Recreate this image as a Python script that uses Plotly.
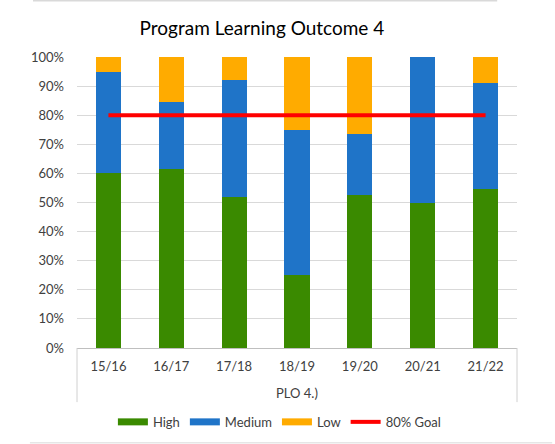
import plotly.graph_objects as go

categories = ["15/16", "16/17", "17/18", "18/19", "19/20", "20/21", "21/22"]
group_label = "PLO 4.)"
high = [60.0, 61.5, 52.0, 25.0, 52.6, 50.0, 54.5]
medium = [35.0, 23.1, 40.0, 50.0, 21.1, 50.0, 36.4]
low = [5.0, 15.4, 8.0, 25.0, 26.3, 0.0, 9.1]
goal = [80] * 7
tick_vals = list(range(0, 101, 10))
tick_text = [f"{v}%" for v in tick_vals]

GREEN = "#3a8a00"
BLUE = "#1f74c8"
ORANGE = "#ffab00"
RED = "#ff0000"
FONT = "Lato"

fig = go.Figure()
for name, vals, col in [("High", high, GREEN), ("Medium", medium, BLUE), ("Low", low, ORANGE)]:
    fig.add_trace(go.Bar(x=categories, y=vals, name=name, marker=dict(color=col, line=dict(width=0)),
                         width=0.4, showlegend=False))
fig.add_trace(go.Scatter(x=categories, y=goal, mode="lines", line=dict(color=RED, width=4),
                         name="80% Goal", showlegend=False))
# legend entries
for name, col, w in [("High", GREEN, 7), ("Medium", BLUE, 7), ("Low", ORANGE, 7), ("80% Goal", RED, 4)]:
    fig.add_trace(go.Scatter(x=[None], y=[None], mode="lines", line=dict(color=col, width=w), name=name))

fig.update_layout(
    width=555, height=444,
    margin=dict(l=77, r=38, t=57, b=96, autoexpand=False),
    barmode="stack",
    paper_bgcolor="white", plot_bgcolor="white",
    font=dict(family=FONT, size=12, color="#595959"),
    title=dict(text="Program Learning Outcome 4", x=0.472, xanchor="center", xref="container",
               y=0.937, yanchor="middle", font=dict(family=FONT, size=19, color="#000000")),
    legend=dict(orientation="h", x=0.46, xref="paper", xanchor="center", y=-0.254, yanchor="middle",
                traceorder="normal",
                font=dict(family=FONT, size=13, color="#404040"), itemwidth=30, tracegroupgap=0),
    xaxis=dict(type="category", showline=True, linecolor="#bfbfbf", linewidth=1,
               ticks="", tickangle=0, ticklabelstandoff=6, range=[-0.5, 6.5],
               tickfont=dict(family=FONT, size=13, color="#404040"), showgrid=False),
    yaxis=dict(range=[0, 100], tickvals=tick_vals, ticktext=tick_text, showgrid=True,
               gridcolor="#d9d9d9", gridwidth=1, zeroline=False, showline=False, ticks="",
               ticklabelstandoff=12, tickfont=dict(family=FONT, size=13, color="#404040")),
    annotations=[
        dict(text=group_label, xref="paper", yref="paper", x=0.5, y=-0.155, showarrow=False,
             xanchor="center", yanchor="middle", font=dict(family=FONT, size=13, color="#404040")),
    ],
    shapes=[
        dict(type="line", xref="paper", yref="paper", x0=0, x1=0, y0=0, y1=-0.186,
             line=dict(color="#d0d0d0", width=1)),
        dict(type="line", xref="paper", yref="paper", x0=1, x1=1, y0=0, y1=-0.186,
             line=dict(color="#d0d0d0", width=1)),
        dict(type="line", xref="paper", yref="paper", x0=-0.1, x1=0.955, y0=1.193, y1=1.193,
             line=dict(color="#d9d9d9", width=1.5)),
        dict(type="line", xref="paper", yref="paper", x0=-0.107, x1=1.08, y0=-0.326, y1=-0.326,
             line=dict(color="#e6e6e6", width=1.5)),
    ],
)

fig.write_html("out.html")
